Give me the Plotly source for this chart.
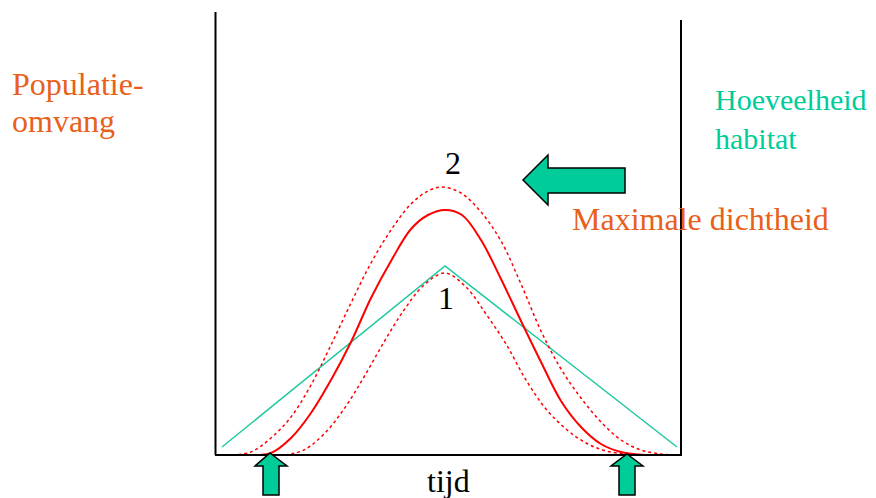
import plotly.graph_objects as go

# coordinates: x = tijd (0 = left wall of box), y = level above the baseline
groen_x = [6, 229, 461]
groen_y = [8, 189, 8]

dicht_x = [34, 55, 75, 95, 115, 135, 155, 175, 195, 212, 229, 246, 265, 285, 305, 325, 345, 365, 385, 405, 430]
dicht_y = [0, 2, 17, 42, 75, 113, 157, 194, 226, 240, 245, 240, 215, 176, 134, 93, 54, 28, 11, 3, 0]

buiten_x = [16, 35, 55, 75, 95, 115, 135, 155, 175, 195, 212, 226, 245, 265, 285, 305, 325, 345, 365, 385, 405, 425, 445, 462]
buiten_y = [0, 3, 17, 38, 70, 110, 152, 192, 225, 251, 264, 268, 262, 243, 214, 171, 124, 86, 57, 33, 15, 5, 1, 0]

binnen_x = [69, 88, 108, 128, 148, 168, 188, 208, 229, 250, 270, 290, 310, 330, 350, 370, 390, 410, 424]
binnen_y = [0, 5, 21, 46, 78, 113, 145, 170, 182, 168, 141, 111, 75, 46, 26, 12, 4, 1, 0]

ORANJE = "#E8601A"
GROEN = "#00CC99"
SERIF = "Liberation Serif, Times New Roman, serif"

fig = go.Figure()

fig.add_trace(go.Scatter(x=groen_x, y=groen_y, mode="lines",
                         line=dict(color="#1DC9A0", width=1.5)))
fig.add_trace(go.Scatter(x=buiten_x, y=buiten_y, mode="lines",
                         line=dict(color="red", width=1.5, dash="dot", shape="spline", smoothing=1)))
fig.add_trace(go.Scatter(x=binnen_x, y=binnen_y, mode="lines",
                         line=dict(color="red", width=1.5, dash="dot", shape="spline", smoothing=1)))
fig.add_trace(go.Scatter(x=dicht_x, y=dicht_y, mode="lines",
                         line=dict(color="red", width=2, shape="spline", smoothing=1)))

# box
zwart = dict(color="black", width=2)
fig.add_shape(type="line", x0=-0.5, y0=0, x1=-0.5, y1=443, line=zwart)
fig.add_shape(type="line", x0=465, y0=0, x1=465, y1=435, line=zwart)
fig.add_shape(type="line", x0=-1, y0=0, x1=466, y1=0, line=zwart)

# arrows
pijl = dict(fillcolor=GROEN, line=dict(color="black", width=1.5), layer="above")
fig.add_shape(type="path", path="M 307 275 L 332 300 L 332 287 L 409 287 L 409 262 L 332 262 L 332 250 Z", **pijl)
fig.add_shape(type="path", path="M 54 2 L 71 -11 L 63 -11 L 63 -40 L 47 -40 L 47 -11 L 39 -11 Z", **pijl)
fig.add_shape(type="path", path="M 411 1 L 427 -11 L 419 -11 L 419 -40 L 403 -40 L 403 -11 L 395 -11 Z", **pijl)

teksten = [
    ("Populatie-", -206, 371, ORANJE, "left", 32),
    ("omvang", -206, 334, ORANJE, "left", 32),
    ("Hoeveelheid", 497, 356, GROEN, "left", 30),
    ("habitat", 497, 317, GROEN, "left", 30),
    ("Maximale dichtheid", 354, 236, ORANJE, "left", 32),
    ("2", 237, 292, "black", "center", 32),
    ("1", 230, 157, "black", "center", 32),
    ("tijd", 232, -26, "black", "center", 32),
]
for t, x, y, kleur, anker, grootte in teksten:
    fig.add_annotation(x=x, y=y, text=t, showarrow=False, xanchor=anker, yanchor="middle",
                       font=dict(family=SERIF, size=grootte, color=kleur))

# the page puts the figure 8 px from the top-left corner, so the figure is 8 px smaller
fig.update_layout(
    width=868, height=490, autosize=False,
    margin=dict(l=0, r=0, t=0, b=0, pad=0),
    paper_bgcolor="white", plot_bgcolor="white",
    showlegend=False,
    xaxis=dict(range=[-208, 660], visible=False, fixedrange=True),
    yaxis=dict(range=[-43, 447], visible=False, fixedrange=True),
)

fig.write_html("out.html")
